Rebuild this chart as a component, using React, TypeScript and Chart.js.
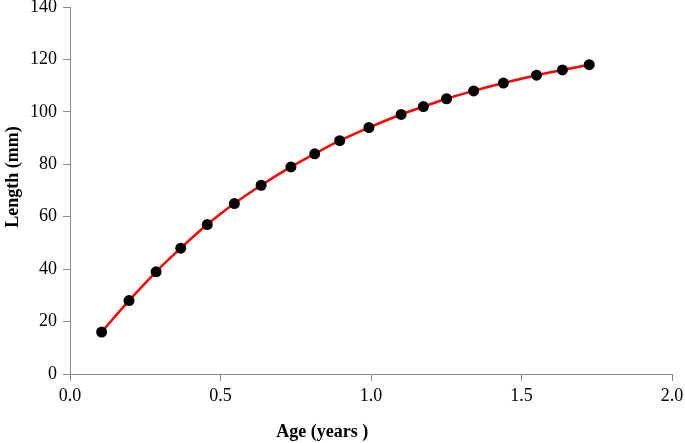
import React, { useEffect, useRef } from "react";
import { Chart, registerables } from "chart.js";

Chart.register(...registerables);

const ages = [0.105, 0.196, 0.286, 0.368, 0.456, 0.546, 0.635, 0.734, 0.813, 0.896, 0.993, 1.1, 1.174, 1.251, 1.341, 1.44, 1.55, 1.636, 1.725];
const lengths = [16, 28, 39, 48, 57, 65, 72, 79, 84, 89, 94, 99, 102, 105, 108, 111, 114, 116, 118];
const xTitle = "Age (years )";
const yTitle = "Length (mm)";

const titlePlugin = {
  id: "axisTitles",
  afterDraw(chart: any) {
    const { ctx, chartArea } = chart;
    ctx.save();
    ctx.fillStyle = "#000";
    ctx.font = "bold 18px 'Liberation Serif', 'Times New Roman', serif";
    ctx.textAlign = "center";
    ctx.textBaseline = "middle";
    const cx = chartArea.left + (chartArea.right - chartArea.left) * 0.419;
    ctx.fillText(xTitle, cx, 432);
    ctx.translate(13, 177);
    ctx.rotate(-Math.PI / 2);
    ctx.fillText(yTitle, 0, 0);
    ctx.restore();
  },
};

export default function App() {
  const ref = useRef<HTMLCanvasElement | null>(null);
  useEffect(() => {
    if (!ref.current) return;
    const tickFont = { family: "'Liberation Serif', 'Times New Roman', serif", size: 18 };
    const chart = new Chart(ref.current, {
      type: "line",
      data: {
        datasets: [
          {
            data: ages.map((a, i) => ({ x: a, y: lengths[i] })),
            borderColor: "#ff0000",
            borderWidth: 2.5,
            backgroundColor: "#000",
            pointBackgroundColor: "#000",
            pointBorderColor: "#000",
            pointRadius: 5.5,
            pointBorderWidth: 0,
            cubicInterpolationMode: "monotone",
            fill: false,
          },
        ],
      },
      options: {
        responsive: false,
        animation: false,
        layout: { padding: { top: 7, right: 13, left: 0, bottom: 0 } },
        plugins: { legend: { display: false }, tooltip: { enabled: false } },
        scales: {
          x: {
            type: "linear",
            min: 0,
            max: 2,
            border: { color: "#888", width: 1 },
            grid: { drawOnChartArea: false, tickLength: 7, color: "#888" },
            ticks: { stepSize: 0.5, color: "#000", font: tickFont, padding: 4, callback: (v: any) => Number(v).toFixed(1) },
            afterFit: (s: any) => { s.height = 69; s.paddingLeft = 0; s.paddingRight = 0; },
          },
          y: {
            min: 0,
            max: 140,
            border: { color: "#888", width: 1 },
            grid: { drawOnChartArea: false, tickLength: 7, color: "#888" },
            ticks: { stepSize: 20, color: "#000", font: tickFont, padding: 6 },
            afterFit: (s: any) => { s.width = 70; s.paddingTop = 0; s.paddingBottom = 0; },
          },
        },
      },
      plugins: [titlePlugin],
    } as any);
    return () => chart.destroy();
  }, []);
  return (
    <div style={{ position: "absolute", left: 0, top: 0, width: 685, height: 443, background: "#fff" }}>
      <canvas ref={ref} width={685} height={443} />
    </div>
  );
}
